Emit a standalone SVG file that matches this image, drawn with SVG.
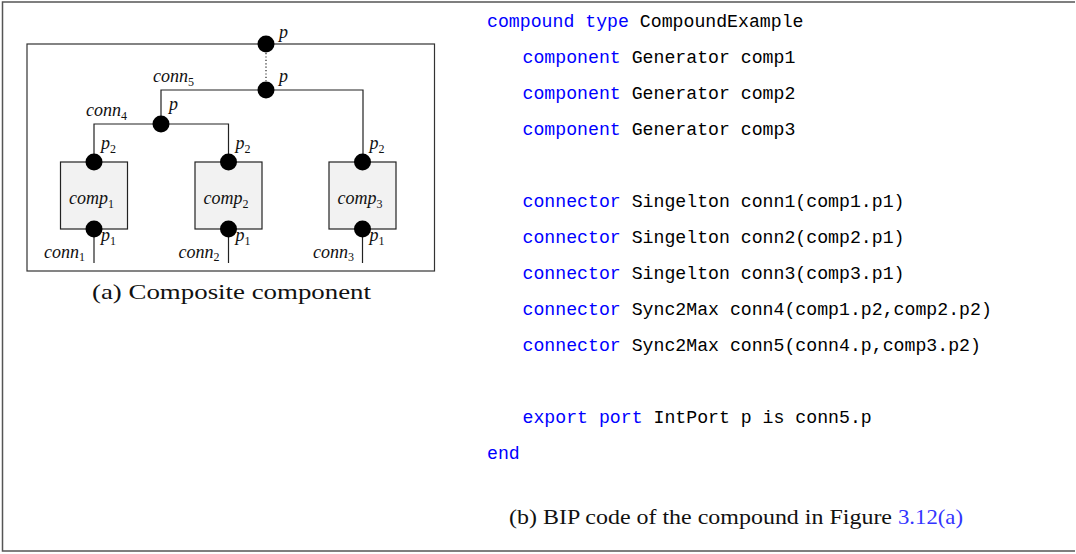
<svg xmlns="http://www.w3.org/2000/svg" width="1076" height="554" viewBox="0 0 1076 554">
<style>
.frame{fill:none;stroke:#555;stroke-width:1.5}
.wire{fill:none;stroke:#222;stroke-width:1.2}
.box{fill:#f2f2f2;stroke:#222;stroke-width:1.2}
.port{fill:#000}
.m{font-family:"Liberation Serif",serif;font-style:italic;font-size:18px;fill:#111}
.s{font-size:12px;font-style:normal}
.code{font-family:"Liberation Mono",monospace;font-size:18.2px;fill:#000}
.kw{fill:#0000ff}
.cap{font-family:"Liberation Serif",serif;font-size:22px;fill:#111}
.link{fill:#3333ff}
</style>
<rect width="1076" height="554" fill="#fff"/>
<path class="frame" d="M1075,2 H2.5 V551 H1075"/>

<g id="composite">
<rect x="27" y="44" width="407.5" height="227" fill="none" stroke="#333" stroke-width="1.2"/>
</g>

<g id="connectors">
<line class="wire" x1="266" y1="53" x2="266" y2="81" stroke-dasharray="1.2 2.2"/>
<path class="wire" d="M161,124 V90 H363 V162"/>
<path class="wire" d="M94,162 V124 H228.5 V162"/>
<line class="wire" x1="94" y1="229" x2="94" y2="263"/>
<line class="wire" x1="228.5" y1="229" x2="228.5" y2="263"/>
<line class="wire" x1="362.5" y1="229" x2="362.5" y2="263"/>
</g>

<g id="comp1">
<rect class="box" x="60.5" y="162" width="67" height="67"/>
<text class="m" x="69" y="204">comp<tspan class="s" dy="3.5">1</tspan></text>
</g>
<g id="comp2">
<rect class="box" x="195" y="162" width="67" height="67"/>
<text class="m" x="203.5" y="204">comp<tspan class="s" dy="3.5">2</tspan></text>
</g>
<g id="comp3">
<rect class="box" x="329" y="162" width="67" height="67"/>
<text class="m" x="337.5" y="204">comp<tspan class="s" dy="3.5">3</tspan></text>
</g>

<g id="ports">
<circle class="port" cx="266" cy="44" r="8.5"/>
<text class="m" x="279" y="38">p</text>
<circle class="port" cx="266" cy="90" r="8.5"/>
<text class="m" x="279" y="82">p</text>
<circle class="port" cx="161" cy="124" r="8.5"/>
<text class="m" x="169" y="110">p</text>
<text class="m" x="153" y="82">conn<tspan class="s" dy="3.5">5</tspan></text>
<text class="m" x="86" y="116">conn<tspan class="s" dy="3.5">4</tspan></text>

<circle class="port" cx="94" cy="162" r="8.5"/>
<circle class="port" cx="228.5" cy="162" r="8.5"/>
<circle class="port" cx="362.5" cy="162" r="8.5"/>
<text class="m" x="101" y="149">p<tspan class="s" dy="3.5">2</tspan></text>
<text class="m" x="235.5" y="149">p<tspan class="s" dy="3.5">2</tspan></text>
<text class="m" x="369.5" y="149">p<tspan class="s" dy="3.5">2</tspan></text>

<circle class="port" cx="94" cy="229" r="8.5"/>
<circle class="port" cx="228.5" cy="229" r="8.5"/>
<circle class="port" cx="362.5" cy="229" r="8.5"/>
<text class="m" x="101" y="241">p<tspan class="s" dy="3.5">1</tspan></text>
<text class="m" x="235.5" y="241">p<tspan class="s" dy="3.5">1</tspan></text>
<text class="m" x="369.5" y="241">p<tspan class="s" dy="3.5">1</tspan></text>

<text class="m" x="44" y="257.5">conn<tspan class="s" dy="3.5">1</tspan></text>
<text class="m" x="178.5" y="257.5">conn<tspan class="s" dy="3.5">2</tspan></text>
<text class="m" x="313" y="257.5">conn<tspan class="s" dy="3.5">3</tspan></text>
</g>

<text class="cap" x="92" y="299" textLength="279" lengthAdjust="spacingAndGlyphs">(a) Composite component</text>

<g id="code" class="code" xml:space="preserve">
<text x="487" y="27"><tspan class="kw">compound type</tspan> CompoundExample</text>
<text x="522.5" y="63"><tspan class="kw">component</tspan> Generator comp1</text>
<text x="522.5" y="99"><tspan class="kw">component</tspan> Generator comp2</text>
<text x="522.5" y="135"><tspan class="kw">component</tspan> Generator comp3</text>
<text x="522.5" y="207"><tspan class="kw">connector</tspan> Singelton conn1(comp1.p1)</text>
<text x="522.5" y="243"><tspan class="kw">connector</tspan> Singelton conn2(comp2.p1)</text>
<text x="522.5" y="279"><tspan class="kw">connector</tspan> Singelton conn3(comp3.p1)</text>
<text x="522.5" y="315"><tspan class="kw">connector</tspan> Sync2Max conn4(comp1.p2,comp2.p2)</text>
<text x="522.5" y="351"><tspan class="kw">connector</tspan> Sync2Max conn5(conn4.p,comp3.p2)</text>
<text x="522.5" y="423"><tspan class="kw">export port</tspan> IntPort p is conn5.p</text>
<text x="487" y="459"><tspan class="kw">end</tspan></text>
</g>

<text class="cap" x="509" y="524" textLength="383" lengthAdjust="spacingAndGlyphs">(b) BIP code of the compound in Figure</text>
<text class="cap link" x="898" y="524" textLength="65" lengthAdjust="spacingAndGlyphs">3.12(a)</text>
</svg>
